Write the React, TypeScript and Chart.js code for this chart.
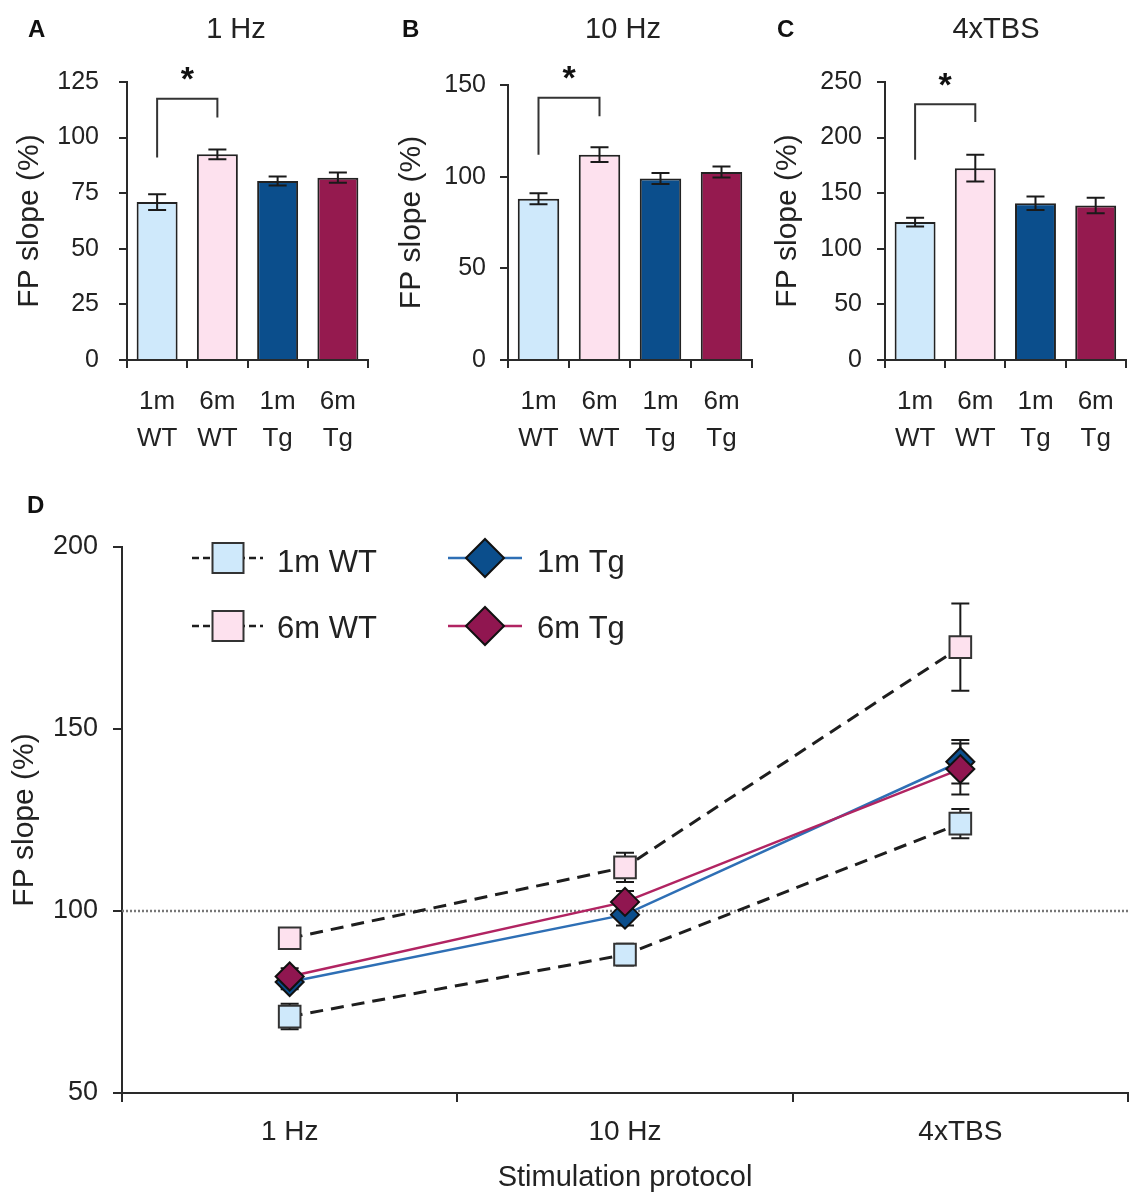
import React, { useEffect, useRef } from 'react';
import { Chart, registerables } from 'chart.js';

Chart.register(...registerables);

// ---------------- data ----------------
const groupLabels = [['1m', 'WT'], ['6m', 'WT'], ['1m', 'Tg'], ['6m', 'Tg']];
const seriesNames = ['1m WT', '6m WT', '1m Tg', '6m Tg'];
const protocols = ['1 Hz', '10 Hz', '4xTBS'];

const hz1Mean = [71, 92.5, 80.5, 82];
const hz1Sem = [3.5, 2.2, 2, 2.3];
const hz10Mean = [88, 112, 99, 102.5];
const hz10Sem = [3, 4, 3, 3];
const tbsMean = [124, 172.5, 141, 139];
const tbsSem = [4, 12, 6, 7];

// y-axis ranges: [min, max, step]
const hz1Axis = [0, 125, 25];
const hz10Axis = [0, 150, 50];
const tbsAxis = [0, 250, 50];
const lineAxis = [50, 200, 50];
const baselineValue = 100;

// significance brackets: [left foot, top, right foot] in data units
const hz1Bracket = [91, 117.5, 109];
const hz10Bracket = [112, 143, 133];
const tbsBracket = [180, 230, 214];

// ---------------- styles ----------------
const FONT = '"Liberation Sans", Arial, Helvetica, sans-serif';
const TEXT = '#222222';
const AXIS = '#2a2a2a';
const barFill = ['#cfe9fb', '#fde1ee', '#0b4e8c', '#951a4f'];
const lineColor = ['#1e1e1e', '#1e1e1e', '#2e6fb5', '#b12462'];
const markerFill = ['#cfe9fb', '#fde1ee', '#0b4e8c', '#901650'];
const markerBorder = ['#333333', '#333333', '#111111', '#111111'];

type BarProps = {
  left: number; width: number; letter: string; letterX: number; title: string; titleX: number;
  mean: number[]; sem: number[]; axis: number[]; bracket: number[];
  yWidth: number; padTop: number; padRight: number; tickPad: number; yTitlePad: number;
};

function BarPanel(p: BarProps) {
  const ref = useRef<HTMLCanvasElement>(null);
  useEffect(() => {
    const decor = {
      id: 'barDecor',
      afterDatasetsDraw(chart: any) {
        const { ctx } = chart;
        const x = chart.scales.x, y = chart.scales.y;
        ctx.save();
        ctx.strokeStyle = '#1a1a1a';
        ctx.lineWidth = 2;
        p.mean.forEach((m, i) => {
          const cx = x.getPixelForValue(i);
          const t = y.getPixelForValue(m + p.sem[i]);
          const b = y.getPixelForValue(m - p.sem[i]);
          ctx.beginPath();
          ctx.moveTo(cx, t); ctx.lineTo(cx, b);
          ctx.moveTo(cx - 9, t); ctx.lineTo(cx + 9, t);
          ctx.moveTo(cx - 9, b); ctx.lineTo(cx + 9, b);
          ctx.stroke();
        });
        const xl = x.getPixelForValue(0), xr = x.getPixelForValue(1);
        const yt = y.getPixelForValue(p.bracket[1]);
        ctx.strokeStyle = '#333';
        ctx.beginPath();
        ctx.moveTo(xl, y.getPixelForValue(p.bracket[0]));
        ctx.lineTo(xl, yt);
        ctx.lineTo(xr, yt);
        ctx.lineTo(xr, y.getPixelForValue(p.bracket[2]));
        ctx.stroke();
        ctx.fillStyle = '#111';
        ctx.font = `bold 34px ${FONT}`;
        ctx.textAlign = 'center';
        ctx.textBaseline = 'alphabetic';
        const mt = ctx.measureText('*');
        const cy = yt - 25;
        ctx.fillText('*', (xl + xr) / 2, cy + (mt.actualBoundingBoxAscent - mt.actualBoundingBoxDescent) / 2);
        ctx.restore();
      },
      afterDraw(chart: any) {
        const { ctx } = chart;
        ctx.save();
        ctx.fillStyle = TEXT;
        ctx.textBaseline = 'alphabetic';
        ctx.font = `29px ${FONT}`;
        ctx.textAlign = 'center';
        ctx.fillText(p.title, p.titleX, 38);
        ctx.font = `bold 24px ${FONT}`;
        ctx.textAlign = 'left';
        ctx.fillStyle = '#111';
        ctx.fillText(p.letter, p.letterX, 37);
        ctx.restore();
      },
    };
    const chart = new Chart(ref.current as HTMLCanvasElement, {
      type: 'bar',
      data: {
        labels: groupLabels,
        datasets: [{
          data: p.mean,
          backgroundColor: barFill,
          borderColor: '#222',
          borderWidth: 2,
          barPercentage: 0.68,
          categoryPercentage: 1,
        }],
      },
      options: {
        responsive: false,
        animation: false,
        devicePixelRatio: 1,
        layout: { autoPadding: false, padding: { top: p.padTop, right: p.padRight, left: 0, bottom: 0 } },
        plugins: { legend: { display: false }, tooltip: { enabled: false }, title: { display: false } },
        scales: {
          x: {
            offset: true,
            grid: { display: true, offset: true, drawOnChartArea: false, drawTicks: true, tickLength: 8, color: AXIS, lineWidth: 2 },
            border: { display: true, color: AXIS, width: 2 },
            ticks: { color: TEXT, font: { family: FONT, size: 26, lineHeight: 1.4 }, padding: 16, maxRotation: 0, autoSkip: false },
            afterFit: (s: any) => { s.height = 100; },
          },
          y: {
            min: p.axis[0], max: p.axis[1],
            grid: { display: true, drawOnChartArea: false, drawTicks: true, tickLength: 8, color: AXIS, lineWidth: 2 },
            border: { display: true, color: AXIS, width: 2 },
            ticks: { stepSize: p.axis[2], color: TEXT, font: { family: FONT, size: 25 }, padding: p.tickPad },
            title: { display: true, text: 'FP slope (%)', color: TEXT, font: { family: FONT, size: 30, lineHeight: 1.2 }, padding: { top: p.yTitlePad, bottom: 0 } },
            afterFit: (s: any) => { s.width = p.yWidth; },
          },
        },
      },
      plugins: [decor],
    } as any);
    return () => chart.destroy();
  }, []);
  return (
    <canvas
      ref={ref}
      width={p.width}
      height={460}
      style={{ position: 'absolute', left: p.left, top: 0, width: p.width, height: 460 }}
    />
  );
}

function LinePanel() {
  const ref = useRef<HTMLCanvasElement>(null);
  useEffect(() => {
    const means = [hz1Mean, hz10Mean, tbsMean];
    const sems = [hz1Sem, hz10Sem, tbsSem];
    const seriesData = seriesNames.map((_, s) => means.map((m) => m[s]));
    const seriesSem = seriesNames.map((_, s) => sems.map((m) => m[s]));
    const isWT = [true, true, false, false];

    const drawMarker = (ctx: any, s: number, cx: number, cy: number) => {
      ctx.beginPath();
      if (isWT[s]) {
        ctx.rect(cx - 15.5, cy - 15, 31, 30);
      } else {
        const r = 19;
        ctx.moveTo(cx - r, cy); ctx.lineTo(cx, cy - r); ctx.lineTo(cx + r, cy); ctx.lineTo(cx, cy + r);
        ctx.closePath();
      }
      ctx.fillStyle = markerFill[s];
      ctx.fill();
      ctx.lineWidth = 2;
      ctx.strokeStyle = markerBorder[s];
      ctx.stroke();
    };

    const decor = {
      id: 'lineDecor',
      beforeDatasetsDraw(chart: any) {
        const { ctx, chartArea } = chart;
        const x = chart.scales.x, y = chart.scales.y;
        ctx.save();
        const yb = y.getPixelForValue(baselineValue);
        ctx.strokeStyle = '#777';
        ctx.lineWidth = 2.5;
        ctx.setLineDash([2, 2]);
        ctx.beginPath();
        ctx.moveTo(chartArea.left, yb);
        ctx.lineTo(chartArea.right, yb);
        ctx.stroke();
        ctx.setLineDash([]);
        ctx.strokeStyle = '#1a1a1a';
        ctx.lineWidth = 2;
        seriesData.forEach((vals, s) => {
          vals.forEach((v, i) => {
            const cx = x.getPixelForValue(i);
            const t = y.getPixelForValue(v + seriesSem[s][i]);
            const b = y.getPixelForValue(v - seriesSem[s][i]);
            ctx.beginPath();
            ctx.moveTo(cx, t); ctx.lineTo(cx, b);
            ctx.moveTo(cx - 9, t); ctx.lineTo(cx + 9, t);
            ctx.moveTo(cx - 9, b); ctx.lineTo(cx + 9, b);
            ctx.stroke();
          });
        });
        ctx.restore();
      },
      afterDraw(chart: any) {
        const { ctx } = chart;
        ctx.save();
        // letter
        ctx.fillStyle = '#111';
        ctx.font = `bold 24px ${FONT}`;
        ctx.textAlign = 'left';
        ctx.textBaseline = 'alphabetic';
        ctx.fillText('D', 27, 53);
        // legend
        const cols = [{ l0: 192, l1: 263, mk: 228, tx: 277 }, { l0: 448, l1: 522, mk: 485, tx: 537 }];
        const rows = [{ cy: 98, base: 112 }, { cy: 166, base: 178 }];
        const place = [[0, 0], [0, 1], [1, 0], [1, 1]];
        seriesNames.forEach((name, s) => {
          const c = cols[place[s][0]], r = rows[place[s][1]];
          ctx.save();
          ctx.strokeStyle = lineColor[s];
          ctx.lineWidth = 2.5;
          if (isWT[s]) ctx.setLineDash([7, 4]);
          ctx.beginPath();
          ctx.moveTo(c.l0, r.cy); ctx.lineTo(c.mk - 10, r.cy);
          ctx.moveTo(c.mk + 10, r.cy); ctx.lineTo(c.l1, r.cy);
          ctx.stroke();
          ctx.setLineDash([]);
          drawMarker(ctx, s, c.mk, r.cy);
          ctx.restore();
          ctx.fillStyle = TEXT;
          ctx.font = `31px ${FONT}`;
          ctx.textAlign = 'left';
          ctx.textBaseline = 'alphabetic';
          ctx.fillText(name, c.tx, r.base);
        });
        ctx.restore();
      },
    };

    const chart = new Chart(ref.current as HTMLCanvasElement, {
      type: 'line',
      data: {
        labels: protocols,
        datasets: seriesNames.map((name, s) => ({
          label: name,
          data: seriesData[s],
          borderColor: lineColor[s],
          borderWidth: isWT[s] ? 3 : 2.5,
          borderDash: isWT[s] ? [13, 8] : [],
          tension: 0,
          fill: false,
          pointStyle: isWT[s] ? 'rect' : 'rectRot',
          pointRadius: isWT[s] ? 15.3 : 14,
          pointHoverRadius: isWT[s] ? 15.3 : 14,
          pointBackgroundColor: markerFill[s],
          pointBorderColor: markerBorder[s],
          pointBorderWidth: 2,
          order: 4 - s,
        })),
      },
      options: {
        responsive: false,
        animation: false,
        devicePixelRatio: 1,
        layout: { autoPadding: false, padding: { top: 87, right: 2, left: 0, bottom: 0 } },
        plugins: { legend: { display: false }, tooltip: { enabled: false }, title: { display: false } },
        scales: {
          x: {
            type: 'category',
            offset: true,
            grid: { display: true, offset: true, drawOnChartArea: false, drawTicks: true, tickLength: 9, color: AXIS, lineWidth: 2 },
            border: { display: true, color: AXIS, width: 2 },
            ticks: { color: TEXT, font: { family: FONT, size: 28 }, padding: 13, maxRotation: 0, autoSkip: false },
            title: { display: true, text: 'Stimulation protocol', color: TEXT, font: { family: FONT, size: 29, lineHeight: 1.2 }, padding: { top: 0, bottom: 3 } },
            afterFit: (s: any) => { s.height = 105; },
          },
          y: {
            min: lineAxis[0], max: lineAxis[1],
            grid: { display: true, drawOnChartArea: false, drawTicks: true, tickLength: 9, color: AXIS, lineWidth: 2 },
            border: { display: true, color: AXIS, width: 2 },
            ticks: { stepSize: lineAxis[2], color: TEXT, font: { family: FONT, size: 27 }, padding: 15 },
            title: { display: true, text: 'FP slope (%)', color: TEXT, font: { family: FONT, size: 30, lineHeight: 1.2 }, padding: { top: 7, bottom: 0 } },
            afterFit: (s: any) => { s.width = 122; },
          },
        },
      },
      plugins: [decor],
    } as any);
    return () => chart.destroy();
  }, []);
  return (
    <canvas
      ref={ref}
      width={1130}
      height={738}
      style={{ position: 'absolute', left: 0, top: 460, width: 1130, height: 738 }}
    />
  );
}

export default function App() {
  return (
    <div style={{ position: 'absolute', left: 0, top: 0, width: 1130, height: 1198, background: '#fff', overflow: 'hidden' }}>
      <BarPanel left={0} width={380} letter="A" letterX={28} title="1 Hz" titleX={236}
        mean={hz1Mean} sem={hz1Sem} axis={hz1Axis} bracket={hz1Bracket}
        yWidth={127} padTop={82} padRight={12} tickPad={20} yTitlePad={12} />
      <BarPanel left={380} width={380} letter="B" letterX={22} title="10 Hz" titleX={243}
        mean={hz10Mean} sem={hz10Sem} axis={hz10Axis} bracket={hz10Bracket}
        yWidth={128} padTop={85} padRight={8} tickPad={14} yTitlePad={14} />
      <BarPanel left={760} width={370} letter="C" letterX={17} title="4xTBS" titleX={236}
        mean={tbsMean} sem={tbsSem} axis={tbsAxis} bracket={tbsBracket}
        yWidth={125} padTop={82} padRight={2} tickPad={15} yTitlePad={10} />
      <LinePanel />
    </div>
  );
}
